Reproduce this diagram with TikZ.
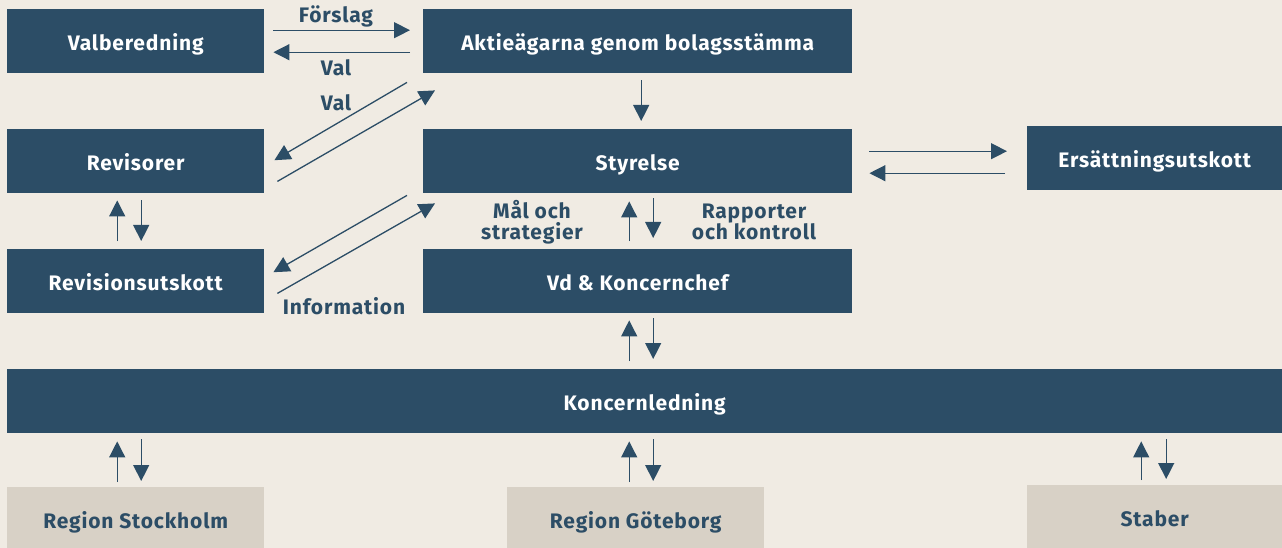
\documentclass[tikz,border=0pt]{standalone}
\usepackage{fontspec}
\setmainfont{Fira Sans}[LetterSpace=4]
\usetikzlibrary{
  arrows.meta,   % Triangle-pilar
  calc,          % koordinatberäkning
  positioning    % relativ placering
}
\definecolor{morkbla}{HTML}{2C4D66}
\definecolor{bakgrund}{HTML}{F0EBE3}
\definecolor{gramull}{HTML}{D8D1C6}
\tikzset{
  ruta/.style={fill=morkbla, text=white, font=\bfseries\fontsize{21}{23}\selectfont,
    minimum height=64pt, inner sep=0pt, text height=18.5pt, text depth=0pt, anchor=north west},
  ljusruta/.style={ruta, fill=gramull, text=morkbla},
  pil/.style={draw=morkbla, line width=1.3pt, -{Triangle[length=16pt,width=16pt]}},
  etikett/.style={text=morkbla, font=\bfseries\fontsize{21}{23}\selectfont, align=center, inner sep=0pt}
}

\begin{document}
\begin{tikzpicture}[x=1pt, y=-1pt]
    % --- bakgrund ---
    \fill[bakgrund] (0,0) rectangle (1282,548);
    \useasboundingbox (0,0) rectangle (1282,548);

    % --- rutor ---
    \node[ruta, minimum width=257pt] (valb) at (7,9) {Valberedning};
    \node[ruta, minimum width=429pt] (aktie) at (423,9) {Aktieägarna genom bolagsstämma};
    \node[ruta, minimum width=257pt] (revisorer) at (7,129) {Revisorer};
    \node[ruta, minimum width=429pt] (styrelse) at (423,129) {Styrelse};
    \node[ruta, minimum width=255pt] (ersatt) at (1027,126) {Ersättningsutskott};
    \node[ruta, minimum width=257pt] (revutsk) at (7,249) {Revisionsutskott};
    \node[ruta, minimum width=429pt] (vd) at (423,249) {Vd \& Koncernchef};
    \node[ruta, minimum width=1275pt] (koncern) at (7,369) {Koncernledning};
    \node[ljusruta, minimum width=257pt] (stockholm) at (7,487) {Region Stockholm};
    \node[ljusruta, minimum width=257pt] (goteborg) at (507,487) {Region Göteborg};
    \node[ljusruta, minimum width=255pt] (staber) at (1027,485) {Staber};

    % --- valberedning och stämma ---
    \draw[pil, shorten <=9pt, shorten >=13pt] ([yshift=11pt]valb.east) -- ([yshift=11pt]aktie.west);
    \draw[pil, shorten <=13pt, shorten >=9pt] ([yshift=-11pt]aktie.west) -- ([yshift=-11pt]valb.east);
    \node[etikett] (forslag) at (336,16) {Förslag};
    \node[etikett] (val1) at (336,68) {Val};

    % --- revisorer ---
    \draw[pil] ([shift={(-16,9)}]aktie.south west) -- ([shift={(10,-1)}]revisorer.east);
    \draw[pil] ([shift={(13,-12)}]revisorer.south east) -- ([shift={(12,17)}]aktie.south west);
    \node[etikett] (val2) at (336,103) {Val};

    % --- revisionsutskott ---
    \draw[pil] ([shift={(-16,2)}]styrelse.south west) -- ([shift={(9,-9)}]revutsk.east);
    \draw[pil] ([shift={(13,-20)}]revutsk.south east) -- ([shift={(12,10)}]styrelse.south west);
    \node[etikett] (info) at (344,306) {Information};

    % --- vertikala pilar ---
    \draw[pil, shorten <=7pt, shorten >=8pt] ([xshift=3.5pt]aktie.south) -- ([xshift=3.5pt]styrelse.north);
    \draw[pil, shorten <=8pt, shorten >=8pt] ([xshift=-8.5pt]vd.north) -- ([xshift=-8.5pt]styrelse.south);
    \draw[pil, shorten <=5pt, shorten >=11pt] ([xshift=15.5pt]styrelse.south) -- ([xshift=15.5pt]vd.north);
    \node[etikett] (mal) at (532,222) {Mål och\\[-2pt]strategier};
    \node[etikett] (rapp) at (754,222) {Rapporter\\[-2pt]och kontroll};

    \draw[pil, shorten <=8pt, shorten >=7pt] ([xshift=-18.5pt]revutsk.north) -- ([xshift=-18.5pt]revisorer.south);
    \draw[pil, shorten <=7pt, shorten >=8pt] ([xshift=5.5pt]revisorer.south) -- ([xshift=5.5pt]revutsk.north);

    \draw[pil, shorten <=8pt, shorten >=7pt] ([xshift=-8.5pt]koncern.north -| vd.south) -- ([xshift=-8.5pt]vd.south);
    \draw[pil, shorten <=5pt, shorten >=10pt] ([xshift=15.5pt]vd.south) -- ([xshift=15.5pt]koncern.north -| vd.south);

    % --- styrelse och ersättningsutskott ---
    \draw[pil, shorten <=17pt, shorten >=20pt] ([yshift=10pt]styrelse.east) -- ([yshift=10pt]styrelse.east -| ersatt.west);
    \draw[pil, shorten <=22pt, shorten >=17pt] ([yshift=-12pt]styrelse.east -| ersatt.west) -- ([yshift=-12pt]styrelse.east);

    % --- koncernledning och regioner ---
    \foreach \enhet/\upp/\ned in {stockholm/-18.5/5.5, goteborg/-6.5/17.5, staber/-13.5/11.5}{
      \draw[pil, shorten <=5pt, shorten >=8pt] ([xshift=\upp pt]\enhet.north) -- ([xshift=\upp pt]\enhet.north |- koncern.south);
      \draw[pil, shorten <=6pt, shorten >=6pt] ([xshift=\ned pt]\enhet.north |- koncern.south) -- ([xshift=\ned pt]\enhet.north);
    }

\end{tikzpicture}
\end{document}
